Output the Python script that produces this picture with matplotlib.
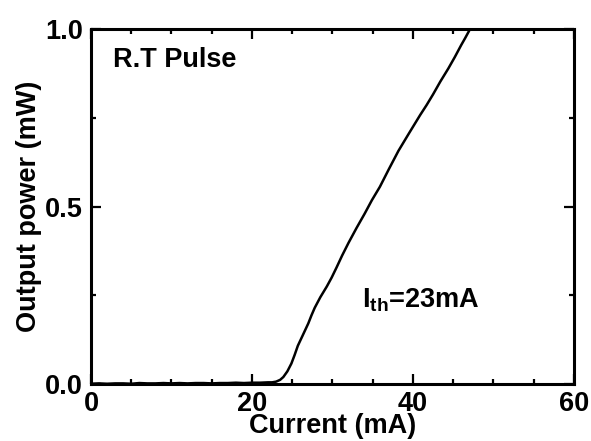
import numpy as np
import matplotlib
matplotlib.use("Agg")
import matplotlib.pyplot as plt
from matplotlib.ticker import MultipleLocator

plt.rcParams["font.family"] = ["Liberation Sans", "DejaVu Sans"]
plt.rcParams["font.weight"] = "bold"
plt.rcParams["mathtext.fontset"] = "custom"
plt.rcParams["mathtext.rm"] = "Liberation Sans:bold"
plt.rcParams["mathtext.it"] = "Liberation Sans:bold"
plt.rcParams["mathtext.bf"] = "Liberation Sans:bold"

# L-I data
current = [0, 1, 2, 3, 4, 5, 6, 7, 8, 9, 10, 11, 12, 13, 14, 15, 16, 17, 18,
           19, 20, 21, 22, 22.5, 23, 23.5, 23.9, 24.4, 24.9, 25.3, 25.7, 26.3,
           27.0, 27.4, 27.8, 28.5, 29.3, 29.9, 30.5, 31.2, 32.0, 33.0, 34.0,
           34.9, 35.9, 37.0, 38.2, 39.5, 40.9, 41.7, 42.5, 43.4, 44.4, 45.2,
           46.0, 46.5, 47.1]
power = [0.001, 0.002, 0.001, 0.002, 0.002, 0.001, 0.003, 0.002, 0.002, 0.003,
         0.002, 0.003, 0.002, 0.003, 0.003, 0.002, 0.003, 0.003, 0.004, 0.003,
         0.004, 0.004, 0.005, 0.005, 0.007, 0.012, 0.020, 0.036, 0.058, 0.082,
         0.108, 0.137, 0.171, 0.194, 0.215, 0.245, 0.275, 0.300, 0.328, 0.362,
         0.398, 0.440, 0.480, 0.518, 0.556, 0.605, 0.657, 0.706, 0.758, 0.786,
         0.816, 0.852, 0.889, 0.921, 0.955, 0.975, 1.0]

xticks = [0, 20, 40, 60]
yticks = [0.0, 0.5, 1.0]

fig = plt.figure(figsize=(5.91, 4.41), dpi=100)
ax = fig.add_axes([0.154, 0.129, 0.817, 0.805])
ax.plot(current, power, color="black", lw=1.8)

ax.set_xlim(0, 60)
ax.set_ylim(0, 1.0)
ax.set_xticks(xticks)
ax.set_yticks(yticks)
ax.set_yticklabels(["%.1f" % v for v in yticks])
ax.xaxis.set_minor_locator(MultipleLocator(5))
ax.yaxis.set_minor_locator(MultipleLocator(0.25))
ax.tick_params(which="both", direction="in", top=True, right=True, width=1.6)
ax.tick_params(which="major", length=7, labelsize=19.5)
ax.tick_params(which="minor", length=3.5)
ax.tick_params(axis="y", which="major", pad=6)
ax.tick_params(axis="x", which="major", pad=5)
for s in ax.spines.values():
    s.set_linewidth(2.2)

ax.set_xlabel("Current (mA)", fontsize=19.5, fontweight="bold", labelpad=-3)
ax.set_ylabel("Output power (mW)", fontsize=19.5, fontweight="bold", labelpad=2)

ax.text(2.7, 0.893, "R.T Pulse", fontsize=19.5, fontweight="bold")
ax.text(33.7, 0.217, r"I$_{\mathrm{th}}$=23mA", fontsize=19.5, fontweight="bold")

fig.savefig("out.png", dpi=100)
